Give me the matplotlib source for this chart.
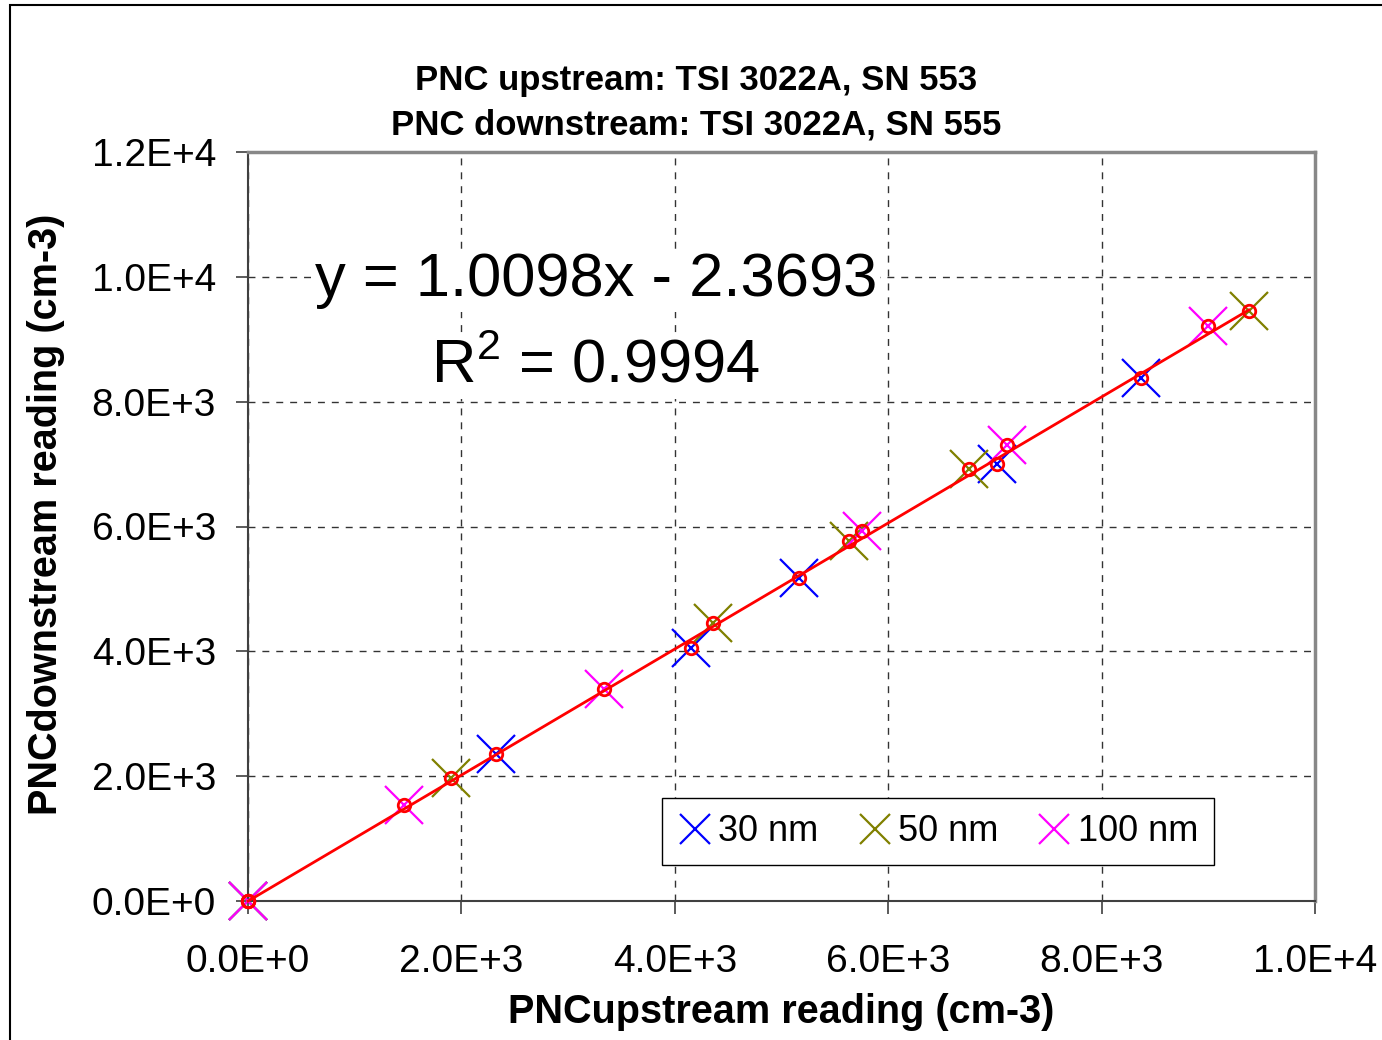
import matplotlib
matplotlib.use("Agg")
import numpy as np
import matplotlib.pyplot as plt
from matplotlib.patches import Rectangle

plt.rcParams['font.family'] = ['Liberation Sans', 'DejaVu Sans']
plt.rcParams['mathtext.fontset'] = 'custom'
plt.rcParams['mathtext.rm'] = 'Liberation Sans'

# readings (cm-3)
x_30 = [0, 2320, 4150, 5160, 7020, 8370]
y_30 = [0, 2360, 4050, 5180, 7000, 8380]
x_50 = [0, 1900, 4360, 5630, 6760, 9380]
y_50 = [0, 1970, 4450, 5770, 6920, 9460]
x_100 = [0, 1460, 3340, 5750, 7110, 9000]
y_100 = [0, 1540, 3400, 5930, 7310, 9210]

slope = 1.0098
intercept = -2.3693

xticks = [0, 2000, 4000, 6000, 8000, 10000]
xtick_labels = ["0.0E+0", "2.0E+3", "4.0E+3", "6.0E+3", "8.0E+3", "1.0E+4"]
yticks = [0, 2000, 4000, 6000, 8000, 10000, 12000]
ytick_labels = ["0.0E+0", "2.0E+3", "4.0E+3", "6.0E+3", "8.0E+3", "1.0E+4", "1.2E+4"]

fig = plt.figure(figsize=(13.82, 10.40), dpi=100)
ax = fig.add_axes([0.1795, 0.1337, 0.7720, 0.7201])

ms, mew = 27, 1.6
ax.plot(x_30, y_30, ls='none', marker='x', ms=ms, mew=mew, color='#0000ff', label='30 nm',
        zorder=3, clip_on=False)
ax.plot(x_50, y_50, ls='none', marker='x', ms=ms, mew=mew, color='#808000', label='50 nm',
        zorder=3, clip_on=False)
ax.plot(x_100, y_100, ls='none', marker='x', ms=ms, mew=mew, color='#ff00ff', label='100 nm',
        zorder=3, clip_on=False)

all_x = np.array(x_30 + x_50 + x_100)
all_y = np.array(y_30 + y_50 + y_100)
xf = np.array([all_x.min(), all_x.max()])
ax.plot(xf, slope * xf + intercept, color='#ff0000', lw=2, zorder=4, clip_on=False)
ax.plot(all_x, all_y, ls='none', marker='o', ms=9, mfc='none', mec='#ff0000', mew=2,
        zorder=5, clip_on=False)

ax.set_xlim(0, 10000)
ax.set_ylim(0, 12000)
ax.set_xticks(xticks)
ax.set_xticklabels(xtick_labels)
ax.set_yticks(yticks)
ax.set_yticklabels(ytick_labels)
ax.tick_params(labelsize=28, length=9, width=1.2, direction='out', color='#404040')
ax.tick_params(axis='x', pad=22)
ax.tick_params(axis='y', pad=14)
ax.grid(True, ls=(0, (5, 5)), color='#333333', lw=1)
ax.set_axisbelow(True)

for side in ['left', 'bottom']:
    ax.spines[side].set_color('#404040')
    ax.spines[side].set_linewidth(1.5)
for side in ['top', 'right']:
    ax.spines[side].set_color('#888888')
    ax.spines[side].set_linewidth(2.5)

ax.set_xlabel("PNCupstream reading (cm-3)", fontsize=28.5, fontweight='bold', labelpad=9)
fig.text(0.033, 0.505, "PNCdownstream reading (cm-3)", fontsize=28.5, fontweight='bold',
         rotation=90, ha='center', va='center')

fig.text(0.504, 0.923, "PNC upstream: TSI 3022A, SN 553", fontsize=25, fontweight='bold',
         ha='center', va='center')
fig.text(0.504, 0.880, "PNC downstream: TSI 3022A, SN 555", fontsize=25, fontweight='bold',
         ha='center', va='center')

eq = ax.text(0.326, 0.828, "y = 1.0098x - 2.3693", transform=ax.transAxes, fontsize=44.3,
             ha='center', va='center', zorder=6)
eq.set_bbox(dict(facecolor='white', edgecolor='none', pad=2))
r2 = ax.text(0.326, 0.713, r"R$^{2}$ = 0.9994", transform=ax.transAxes, fontsize=44.3,
             ha='center', va='center', zorder=6)
r2.set_bbox(dict(facecolor='white', edgecolor='none', pad=2))

leg = ax.legend(loc='lower right', bbox_to_anchor=(0.9058, 0.0474), ncol=3, fontsize=26,
                frameon=True, fancybox=False, edgecolor='black', framealpha=1,
                markerscale=0.8, handlelength=0.9, handletextpad=0.2, columnspacing=1.1,
                borderpad=0.45, borderaxespad=0)
leg.get_frame().set_linewidth(1.0)

# outer chart border
fig.patches.append(Rectangle((10 / 1382, -0.05), 1.2, 1 - 5 / 1040 + 0.05,
                             transform=fig.transFigure, fill=False, edgecolor='black', lw=1.5))

fig.savefig("out.png", dpi=100)
